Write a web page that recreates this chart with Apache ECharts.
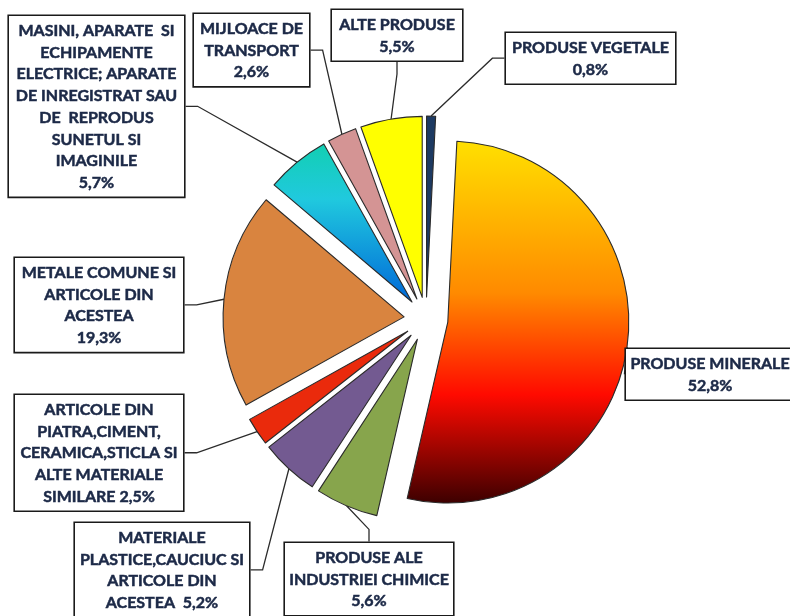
<!DOCTYPE html>
<html>
<head>
<meta charset="utf-8">
<script src="https://cdn.jsdelivr.net/npm/echarts@6/dist/echarts.min.js"></script>
<style>
  html, body { margin: 0; padding: 0; background: #fff; }
  #chart { width: 790px; height: 616px; }
</style>
</head>
<body>
<div id="chart"></div>
<script>
(function () {
  // categorii (ordinea din grafic, in sensul acelor de ceas de la ora 12)
  var categories = [
    "PRODUSE VEGETALE",
    "PRODUSE MINERALE",
    "PRODUSE ALE\nINDUSTRIEI CHIMICE",
    "MATERIALE\nPLASTICE,CAUCIUC SI\nARTICOLE DIN\nACESTEA ",
    "ARTICOLE DIN\nPIATRA,CIMENT,\nCERAMICA,STICLA SI\nALTE MATERIALE\nSIMILARE",
    "METALE COMUNE SI\nARTICOLE DIN\nACESTEA",
    "MASINI, APARATE  SI\nECHIPAMENTE\nELECTRICE; APARATE\nDE INREGISTRAT SAU\nDE  REPRODUS\nSUNETUL SI\nIMAGINILE",
    "MIJLOACE DE\nTRANSPORT",
    "ALTE PRODUSE"
  ];
  // ponderi (%)
  var values = [0.8, 52.8, 5.6, 5.2, 2.5, 19.3, 5.7, 2.6, 5.5];
  // procentul pe acelasi rand cu textul
  var inlineValue = [false, false, false, true, true, false, false, false, false];

  var colors = [
    "#1d3a62",
    {
      type: "linear", x: 0, y: 0, x2: 0, y2: 1,
      colorStops: [
        { offset: 0, color: "#ffe000" },
        { offset: 0.42, color: "#ff8a00" },
        { offset: 0.7, color: "#ff0a00" },
        { offset: 1, color: "#3c0000" }
      ]
    },
    "#87a54c",
    "#735a91",
    "#ea2a0c",
    "#d9843f",
    {
      type: "linear", x: 0, y: 0, x2: 0, y2: 1,
      colorStops: [
        { offset: 0, color: "#12cfb2" },
        { offset: 0.35, color: "#20c9de" },
        { offset: 1, color: "#0068d8" }
      ]
    },
    "#d49494",
    "#ffff00"
  ];

  // casetele etichetelor: colt stanga-sus si latime
  var boxes = [
    { x: 506, y: 33, w: 169 },
    { x: 626, y: 349, w: 168 },
    { x: 285, y: 543, w: 168 },
    { x: 75, y: 523, w: 174 },
    { x: 15, y: 395, w: 168 },
    { x: 15, y: 258, w: 168 },
    { x: 9, y: 16, w: 175 },
    { x: 194, y: 14, w: 115 },
    { x: 332, y: 10, w: 130 }
  ];

  var cx = 426, cy = 319, radius = 181, explode = 22;

  var total = values.reduce(function (a, b) { return a + b; }, 0);

  var labelStyle = {
    show: true,
    position: "outside",
    fontFamily: "Lato",
    fontWeight: "bold",
    fontSize: 16,
    lineHeight: 21.7,
    color: "#1c2947",
    textBorderColor: "#1c2947",
    textBorderWidth: 0.5,
    align: "center",
    backgroundColor: "#fff",
    borderColor: "#1a1a1a",
    borderWidth: 1.6,
    padding: [4, 0, 3, 0],
    formatter: function (p) {
      var v = p.value.toFixed(1).replace(".", ",") + "%";
      return p.name + (inlineValue[p.dataIndex] ? " " : "\n") + v;
    }
  };

  // fiecare felie intr-o serie proprie, deplasata radial (efect "exploded")
  var series = [];
  var acc = 0;
  values.forEach(function (val, k) {
    var mid = ((acc + val / 2) / total) * 2 * Math.PI;
    acc += val;
    series.push({
      type: "pie",
      silent: true,
      center: [cx + explode * Math.sin(mid), cy - explode * Math.cos(mid)],
      radius: [0, radius],
      startAngle: 90,
      clockwise: true,
      avoidLabelOverlap: false,
      labelLine: {
        show: true,
        length: 10,
        length2: 12,
        lineStyle: { color: "#2b2b2b", width: 1.3 }
      },
      labelLayout: function (params) {
        var b = boxes[params.dataIndex];
        return {
          x: b.x + b.w / 2,
          y: b.y,
          align: "center",
          verticalAlign: "top",
          width: b.w
        };
      },
      data: categories.map(function (name, i) {
        var own = i === k;
        return {
          name: name,
          value: values[i],
          itemStyle: own
            ? { color: colors[i], borderColor: "#2a2a2a", borderWidth: 1.1 }
            : { color: "rgba(0,0,0,0)", borderWidth: 0 },
          label: own ? labelStyle : { show: false },
          labelLine: { show: own }
        };
      })
    });
  });

  var myChart = echarts.init(document.getElementById("chart"));
  myChart.setOption({
    backgroundColor: "#fff",
    animation: false,
    series: series
  });
})();
</script>
</body>
</html>
